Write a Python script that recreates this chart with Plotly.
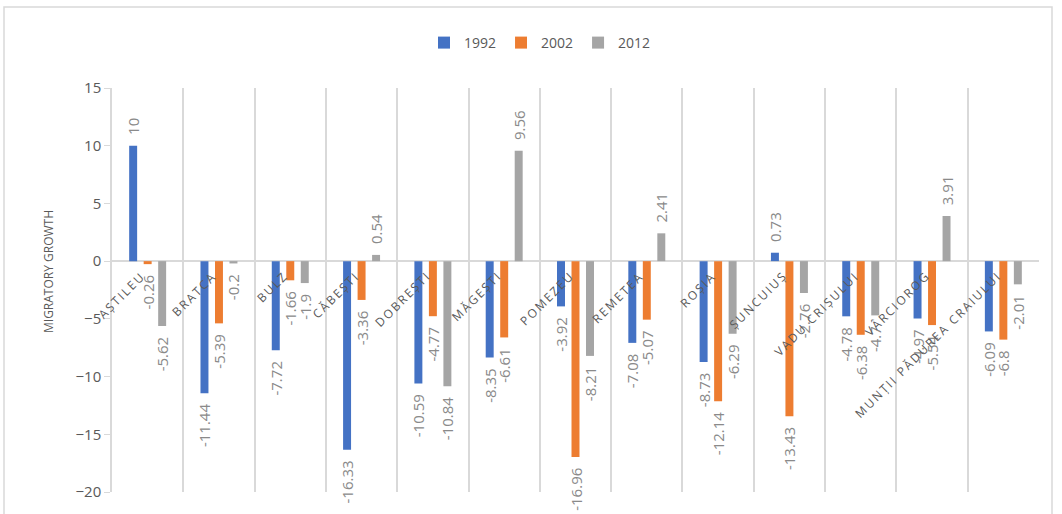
import plotly.graph_objects as go

categories = ["AȘTILEU", "BRATCA", "BULZ", "CĂBEȘTI", "DOBREȘTI", "MĂGEȘTI", "POMEZEU",
              "REMETEA", "ROȘIA", "ȘUNCUIUȘ", "VADU CRIȘULUI", "VÂRCIOROG",
              "MUNȚII PĂDUREA CRAIULUI"]
y1992 = [10, -11.44, -7.72, -16.33, -10.59, -8.35, -3.92, -7.08, -8.73, 0.73, -4.78, -4.97, -6.09]
y2002 = [-0.26, -5.39, -1.66, -3.36, -4.77, -6.61, -16.96, -5.07, -12.14, -13.43, -6.38, -5.54, -6.8]
y2012 = [-5.62, -0.2, -1.9, 0.54, -10.84, 9.56, -8.21, 2.41, -6.29, -2.76, -4.7, 3.91, -2.01]
series = [("1992", y1992, "#4472C4"), ("2002", y2002, "#ED7D31"), ("2012", y2012, "#A5A5A5")]
y_ticks = [15, 10, 5, 0, -5, -10, -15, -20]

FONT = "Open Sans"
NB = "\u00a0\u00a0"


def label(v):
    s = f"{v:g}"
    return NB + s if v >= 0 else s + NB


fig = go.Figure()
for name, vals, col in series:
    fig.add_trace(go.Bar(
        x=categories, y=vals, name=name, marker=dict(color=col, line=dict(width=0)),
        text=[label(v) for v in vals], textposition="outside", textangle=-90,
        constraintext="none", cliponaxis=False,
        textfont=dict(family=FONT, size=15, color="#8a8a8a"),
    ))

W, H = 1062, 514
L, R, T, B = 112, 23, 88, 22
pw, ph = W - L - R, H - T - B


def px(x):
    return (x - L) / pw


def py(y):
    return (H - B - y) / ph


annotations = []
thin = "\u2009"
for c in categories:
    spaced = thin.join(list(c))
    annotations.append(dict(
        x=c, y=0, xref="x", yref="y", text=spaced, showarrow=False,
        textangle=-45, xanchor="right", yanchor="top", yshift=-5, xshift=3,
        font=dict(family=FONT, size=12, color="#595959"),
    ))
annotations.append(dict(
    x=px(48), y=py(272), xref="paper", yref="paper", text="MIGRATORY GROWTH",
    showarrow=False, textangle=-90, xanchor="center", yanchor="middle",
    font=dict(family=FONT, size=12, color="#595959"),
))

fig.update_layout(
    width=W, height=H, margin=dict(l=L, r=R, t=T, b=B),
    paper_bgcolor="white", plot_bgcolor="white",
    barmode="group", bargap=0.39, bargroupgap=0.45,
    showlegend=True,
    legend=dict(orientation="h", x=px(540), xanchor="center", y=py(43), yanchor="middle",
                font=dict(family=FONT, size=14, color="#595959"), itemwidth=30,
                traceorder="normal"),
    annotations=annotations,
    shapes=[dict(type="rect", xref="paper", yref="paper", x0=px(4), x1=px(1052),
                 y0=py(530), y1=py(7), line=dict(color="#d9d9d9", width=1.5),
                 fillcolor="rgba(0,0,0,0)", layer="below")],
    xaxis=dict(type="category", tickson="boundaries", showgrid=True, gridcolor="#d9d9d9",
               gridwidth=1.5, showticklabels=False, ticks="", showline=False,
               zeroline=False, mirror=False, range=[-0.5, len(categories) - 0.5],
               autorange=False),
    yaxis=dict(range=[-20, 15], tickvals=y_ticks, ticks="outside", ticklen=6,
               tickcolor="#d9d9d9", showline=True, linecolor="#d9d9d9", linewidth=1.5,
               showgrid=False, zeroline=True, zerolinecolor="#d9d9d9", zerolinewidth=1.5,
               tickfont=dict(family=FONT, size=15, color="#595959"), ticksuffix="  "),
    font=dict(family=FONT),
)

fig.write_html("out.html")
